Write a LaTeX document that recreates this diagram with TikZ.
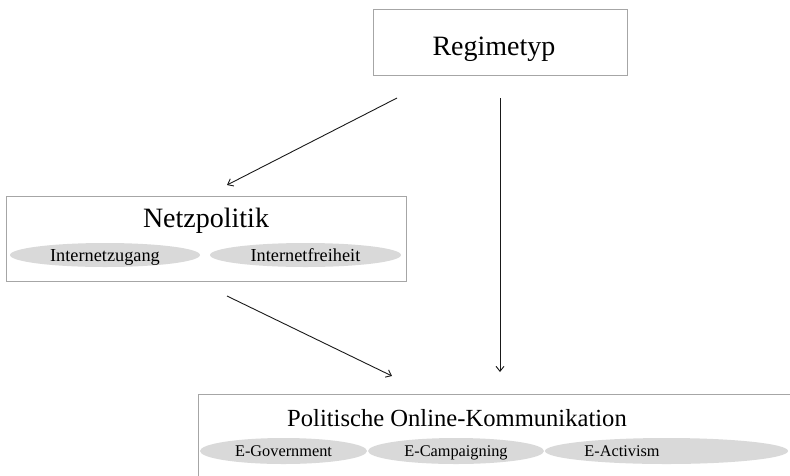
\documentclass[tikz,border=0pt]{standalone}
\usepackage{fontspec}
\setmainfont{Liberation Serif}
\usetikzlibrary{shapes.geometric, arrows.meta}

\tikzset{
	frame/.style = {draw = gray!70, line width = 0.9pt, fill = white, inner sep = 0pt},
	title/.style = {anchor = base, font = \fontsize{28}{32}\selectfont},
	tag/.style = {ellipse, fill = gray!30, inner sep = 0pt, minimum height = 24pt},
	tagtext/.style = {font = \fontsize{18.3}{21}\selectfont, text height = 12.1pt, text depth = 0pt},
	smalltag/.style = {font = \fontsize{16.3}{19}\selectfont, text height = 10.8pt, text depth = 0pt},
	link/.style = {-{Straight Barb[length = 5pt, width = 8pt]}, line width = 0.9pt, black!90},
}

\begin{document}
\begin{tikzpicture}[x = 1pt, y = -1pt]

	% Frame
	
	\useasboundingbox (0, 0) rectangle (790, 475);
	
	% Boxes
	
	\node [frame, minimum width = 254pt, minimum height = 66pt] (regime) at (500, 42) {};
	\node [title] (regimetitle) at (494, 55) {Regimetyp};
	
	\node [frame, minimum width = 400pt, minimum height = 85pt] (netz) at (206, 238.5) {};
	\node [title] (netztitle) at (206, 227) {Netzpolitik};
	\node [tag, tagtext, minimum width = 190pt] (zugang) at (105, 255) {Internetzugang};
	\node [tag, tagtext, minimum width = 191pt] (freiheit) at (305.5, 255) {Internetfreiheit};
	
	\node [frame, minimum width = 610pt, minimum height = 95pt] (komm) at (503, 442) {};
	\node [title, font = \fontsize{24.6}{28}\selectfont] (kommtitle) at (457, 426) {Politische Online-Kommunikation};
	\node [tag, smalltag, minimum width = 167pt, minimum height = 26pt] (gov) at (283.5, 451) {E-Government};
	\node [tag, smalltag, minimum width = 176pt, minimum height = 26pt] (camp) at (456, 451) {E-Campaigning};
	\node [tag, minimum width = 243pt, minimum height = 26pt] (activ) at (666.5, 451) {};
	\node [smalltag, inner sep = 0pt] (activtext) at (622, 451) {E-Activism};
	
	% Arrows
	
	\coordinate (r1) at (397, 98);
	\coordinate (n1) at (227, 185);
	\coordinate (r2) at (500, 98);
	\coordinate (k1) at (500, 372);
	\coordinate (n2) at (227, 296);
	\coordinate (k2) at (392, 376);
	
	\draw [link] (r1) -- (n1);
	\draw [link] (r2) -- (k1);
	\draw [link] (n2) -- (k2);

\end{tikzpicture}
\end{document}
